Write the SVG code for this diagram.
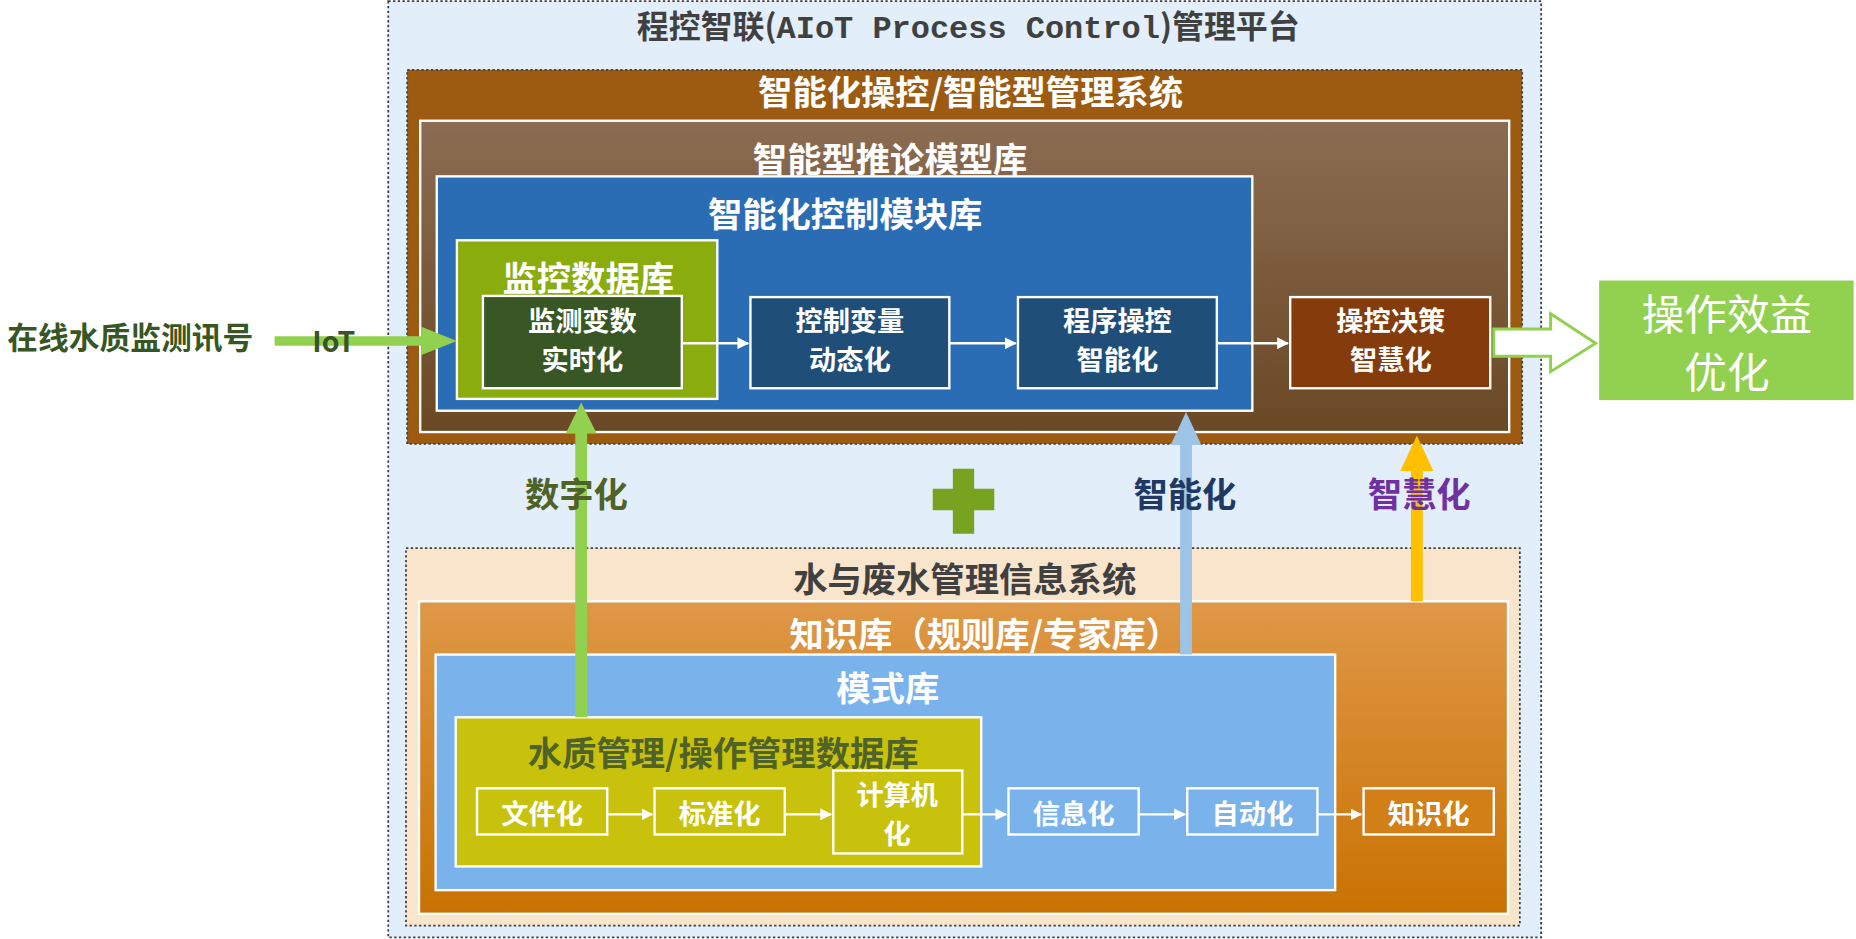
<svg xmlns="http://www.w3.org/2000/svg" width="1856" height="939" viewBox="0 0 1856 939">
<defs>
<style>
text{font-family:"Noto Sans CJK SC","Noto Sans",sans-serif;text-anchor:middle;font-weight:bold}
.w{fill:#fff}
.bx{stroke:#fff;stroke-width:2}
.t26{font-size:29px}
.t24{font-size:23px}
.ar{stroke:#fff;stroke-width:2;fill:none;marker-end:url(#wa)}
</style>
<marker id="wa" viewBox="0 0 10 10" refX="9" refY="5" markerWidth="5" markerHeight="5" orient="auto"><path d="M0,0L10,5L0,10z" fill="#fff"/></marker>
<linearGradient id="gb" x1="0" y1="0" x2="0" y2="1"><stop offset="0" stop-color="#8C6C52"/><stop offset="1" stop-color="#6A4825"/></linearGradient>
<linearGradient id="go" x1="0" y1="0" x2="0" y2="1"><stop offset="0" stop-color="#DF9847"/><stop offset="1" stop-color="#C97202"/></linearGradient>
</defs>
<rect width="1856" height="939" fill="#fff"/>
<g transform="scale(1.18367)">
<g id="platform">
<rect x="328" y="1" width="974" height="791" fill="#E2EEF9" stroke="#404040" stroke-width="1.5" stroke-dasharray="2,2"/>
<text x="818" y="32" font-size="27" fill="#404040">程控智联(<tspan font-family="Liberation Mono,monospace">AIoT Process Control</tspan>)管理平台</text>
</g>
<g id="mgmt">
<rect x="344" y="59" width="942" height="316" fill="#9C5B11" stroke="#404040" stroke-width="1.5" stroke-dasharray="2,2"/>
<text x="820" y="89" class="t26 w">智能化操控/智能型管理系统</text>
</g>
<g id="infer">
<rect x="355" y="102" width="920" height="263" fill="url(#gb)" class="bx"/>
<text x="752" y="145" class="t26 w">智能型推论模型库</text>
</g>
<g id="ctrl">
<rect x="369" y="149" width="689" height="198" fill="#2A6DB5" class="bx"/>
<text x="714" y="192" class="t26 w">智能化控制模块库</text>
</g>
<g id="monitor">
<rect x="386" y="203" width="220" height="134" fill="#8AAC0D" class="bx"/>
<text x="497" y="246" class="t26 w">监控数据库</text>
</g>
<g id="n1"><rect x="408" y="250" width="168" height="78" fill="#385724" class="bx"/>
<text x="492" y="280" class="t24 w">监测变数</text><text x="492" y="313" class="t24 w">实时化</text></g>
<g id="n2"><rect x="634" y="251" width="168" height="77" fill="#1F4E79" class="bx"/>
<text x="718" y="280" class="t24 w">控制变量</text><text x="718" y="313" class="t24 w">动态化</text></g>
<g id="n3"><rect x="860" y="251" width="168" height="77" fill="#1F4E79" class="bx"/>
<text x="944" y="280" class="t24 w">程序操控</text><text x="944" y="313" class="t24 w">智能化</text></g>
<g id="n4"><rect x="1090" y="251" width="169" height="77" fill="#843C0C" class="bx"/>
<text x="1175" y="280" class="t24 w">操控决策</text><text x="1175" y="313" class="t24 w">智慧化</text></g>
<g id="result"><rect x="1351" y="237" width="215" height="101" fill="#92D050"/>
<text x="1459" y="279" font-size="36" class="w" style="font-weight:normal">操作效益</text>
<text x="1459" y="328" font-size="36" class="w" style="font-weight:normal">优化</text></g>
<g id="plus"><path d="M805,396h18v17h17v18h-17v20h-18v-20h-17v-18h17z" fill="#77A320"/></g>
<g id="water">
<rect x="343" y="463" width="941" height="319" fill="#F8E5CB" stroke="#404040" stroke-width="1.5" stroke-dasharray="2,2"/>
<text x="815" y="500" class="t26" fill="#404040">水与废水管理信息系统</text>
</g>
<g id="kb">
<rect x="354" y="508" width="920" height="264" fill="url(#go)" class="bx"/>
<text x="832" y="547" class="t26 w">知识库（规则库/专家库）</text>
</g>
<g id="pattern">
<rect x="368" y="553" width="760" height="199" fill="#7AB3EC" class="bx"/>
<text x="750" y="592" class="t26 w">模式库</text>
</g>
<g id="wqdb">
<rect x="385" y="606" width="444" height="126" fill="#C9C20C" class="bx"/>
<text x="611" y="647" class="t26" fill="#4F6228">水质管理/操作管理数据库</text>
</g>
<g id="m1"><rect x="403" y="666" width="110" height="39" fill="#C9C20C" class="bx"/><text x="458" y="696" class="t24 w">文件化</text></g>
<g id="m2"><rect x="553" y="666" width="110" height="39" fill="#C9C20C" class="bx"/><text x="608" y="696" class="t24 w">标准化</text></g>
<g id="m3"><rect x="704" y="651" width="109" height="70" fill="#C9C20C" class="bx"/><text x="758" y="680" class="t24 w">计算机</text><text x="758" y="713" class="t24 w">化</text></g>
<g id="m4"><rect x="852" y="666" width="110" height="39" fill="#7AB3EC" class="bx"/><text x="907" y="696" class="t24 w">信息化</text></g>
<g id="m5"><rect x="1003" y="666" width="110" height="39" fill="#7AB3EC" class="bx"/><text x="1058" y="696" class="t24 w">自动化</text></g>
<g id="m6"><rect x="1152" y="666" width="110" height="39" fill="#D27F17" class="bx"/><text x="1207" y="696" class="t24 w">知识化</text></g>
<g id="connectors">
<path class="ar" d="M576,290H632"/>
<path class="ar" d="M802,290H858"/>
<path class="ar" d="M1028,290H1088"/>
<path class="ar" d="M513,688H551"/>
<path class="ar" d="M663,688H702"/>
<path class="ar" d="M813,688H850"/>
<path class="ar" d="M962,688H1001"/>
<path class="ar" d="M1113,688H1150"/>
<path d="M1262,278H1310V265L1348,290L1310,314V301H1262z" fill="#fff" stroke="#92D050" stroke-width="2.5"/>
<path d="M232,288H358" stroke="#92D050" stroke-width="8"/>
<path d="M356,276L386,288L356,300z" fill="#92D050"/>
<path d="M491,606V364" stroke="#92D050" stroke-width="10"/>
<path d="M478,366L491,340L504,366z" fill="#92D050"/>
<path d="M1002,553V374" stroke="#9DC3E6" stroke-width="10"/>
<path d="M989,376L1002,348L1015,376z" fill="#9DC3E6"/>
<path d="M1197,508V396" stroke="#FFC000" stroke-width="10"/>
<path d="M1183,398L1197,368L1211,398z" fill="#FFC000"/>
</g>
<g id="labels">
<text x="110" y="295" font-size="26" fill="#375623">在线水质监测讯号</text>
<text x="282" y="297" font-size="24" fill="#375623" font-family="Liberation Mono,monospace">IoT</text>
<text x="487" y="428" class="t26" fill="#4F6228">数字化</text>
<text x="1001" y="428" class="t26" fill="#1F3864">智能化</text>
<text x="1199" y="428" class="t26" fill="#7030A0">智慧化</text>
</g>
</g>
</svg>
